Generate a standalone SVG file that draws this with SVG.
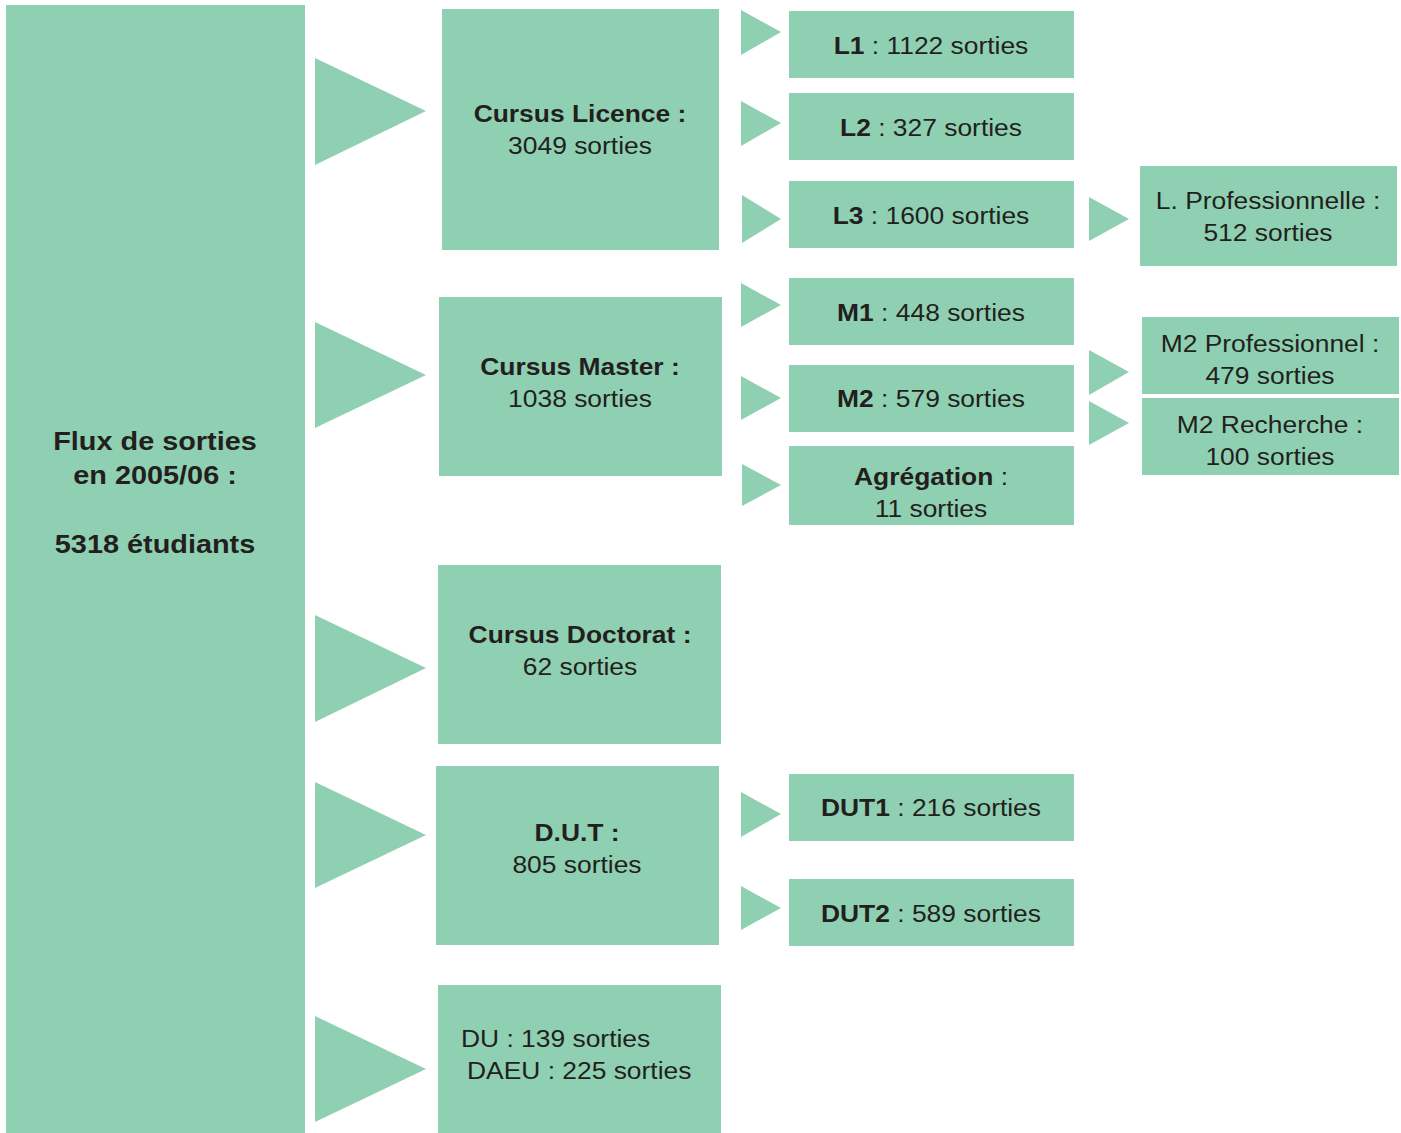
<svg xmlns="http://www.w3.org/2000/svg" width="1401" height="1133" viewBox="0 0 1401 1133">
<style>
.b{fill:#8fd0b2}
.t{fill:#8fd0b2}
text{font-family:"Liberation Sans",Arial,sans-serif;font-size:24px;fill:#231f20}
.c{text-anchor:middle}
.bd{font-weight:bold}
.big{font-size:26px;font-weight:bold}
</style>
<rect width="1401" height="1133" fill="#ffffff"/>
<g id="connectors">
<polygon class="t" points="315,58 426,111 315,165"/>
<polygon class="t" points="315,322 426,375 315,428"/>
<polygon class="t" points="315,615 426,668 315,722"/>
<polygon class="t" points="315,782 426,835 315,888"/>
<polygon class="t" points="315,1016 426,1069 315,1122"/>
<polygon class="t" points="741,10 781,32 741,55"/>
<polygon class="t" points="741,101 781,123 741,146"/>
<polygon class="t" points="742,195 781,219 742,243"/>
<polygon class="t" points="1089,197 1129,219 1089,241"/>
<polygon class="t" points="741,283 781,305 741,327"/>
<polygon class="t" points="741,376 781,398 741,420"/>
<polygon class="t" points="742,464 781,485 742,506"/>
<polygon class="t" points="1089,350 1129,372 1089,395"/>
<polygon class="t" points="1089,401 1129,423 1089,445"/>
<polygon class="t" points="741,792 781,814 741,837"/>
<polygon class="t" points="741,886 781,908 741,930"/>
</g>
<g id="flux">
<rect class="b" x="6" y="5" width="299" height="1128"/>
<text class="c big" transform="matrix(1.11 0 0 1 155 450)">Flux de sorties</text>
<text class="c big" transform="matrix(1.11 0 0 1 155 484)">en 2005/06 :</text>
<text class="c big" transform="matrix(1.11 0 0 1 155 553)">5318 étudiants</text>
</g>
<g id="licence">
<rect class="b" x="442" y="9" width="277" height="241"/>
<text class="c bd" transform="matrix(1.1 0 0 1 580 122)">Cursus Licence :</text>
<text class="c" transform="matrix(1.1 0 0 1 580 154)">3049 sorties</text>
</g>
<g id="master">
<rect class="b" x="439" y="297" width="283" height="179"/>
<text class="c bd" transform="matrix(1.1 0 0 1 580 375)">Cursus Master :</text>
<text class="c" transform="matrix(1.1 0 0 1 580 407)">1038 sorties</text>
</g>
<g id="doctorat">
<rect class="b" x="438" y="565" width="283" height="179"/>
<text class="c bd" transform="matrix(1.1 0 0 1 580 643)">Cursus Doctorat :</text>
<text class="c" transform="matrix(1.1 0 0 1 580 675)">62 sorties</text>
</g>
<g id="dut">
<rect class="b" x="436" y="766" width="283" height="179"/>
<text class="c bd" transform="matrix(1.1 0 0 1 577 841)">D.U.T :</text>
<text class="c" transform="matrix(1.1 0 0 1 577 873)">805 sorties</text>
</g>
<g id="du">
<rect class="b" x="438" y="985" width="283" height="148"/>
<text transform="matrix(1.1 0 0 1 461 1047)">DU : 139 sorties</text>
<text transform="matrix(1.1 0 0 1 467 1079)">DAEU : 225 sorties</text>
</g>
<g id="l1">
<rect class="b" x="789" y="11" width="285" height="67"/>
<text class="c" transform="matrix(1.1 0 0 1 931 54)"><tspan class="bd">L1</tspan> : 1122 sorties</text>
</g>
<g id="l2">
<rect class="b" x="789" y="93" width="285" height="67"/>
<text class="c" transform="matrix(1.1 0 0 1 931 136)"><tspan class="bd">L2</tspan> : 327 sorties</text>
</g>
<g id="l3">
<rect class="b" x="789" y="181" width="285" height="67"/>
<text class="c" transform="matrix(1.1 0 0 1 931 224)"><tspan class="bd">L3</tspan> : 1600 sorties</text>
</g>
<g id="lpro">
<rect class="b" x="1140" y="166" width="257" height="100"/>
<text class="c" transform="matrix(1.1 0 0 1 1268 209)">L. Professionnelle :</text>
<text class="c" transform="matrix(1.1 0 0 1 1268 241)">512 sorties</text>
</g>
<g id="m1">
<rect class="b" x="789" y="278" width="285" height="67"/>
<text class="c" transform="matrix(1.1 0 0 1 931 321)"><tspan class="bd">M1</tspan> : 448 sorties</text>
</g>
<g id="m2">
<rect class="b" x="789" y="365" width="285" height="67"/>
<text class="c" transform="matrix(1.1 0 0 1 931 407)"><tspan class="bd">M2</tspan> : 579 sorties</text>
</g>
<g id="agregation">
<rect class="b" x="789" y="446" width="285" height="79"/>
<text class="c" transform="matrix(1.1 0 0 1 931 485)"><tspan class="bd">Agrégation</tspan> :</text>
<text class="c" transform="matrix(1.1 0 0 1 931 517)">11 sorties</text>
</g>
<g id="m2pro">
<rect class="b" x="1142" y="317" width="257" height="77"/>
<text class="c" transform="matrix(1.1 0 0 1 1270 352)">M2 Professionnel :</text>
<text class="c" transform="matrix(1.1 0 0 1 1270 384)">479 sorties</text>
</g>
<g id="m2rech">
<rect class="b" x="1142" y="398" width="257" height="77"/>
<text class="c" transform="matrix(1.1 0 0 1 1270 433)">M2 Recherche :</text>
<text class="c" transform="matrix(1.1 0 0 1 1270 465)">100 sorties</text>
</g>
<g id="dut1">
<rect class="b" x="789" y="774" width="285" height="67"/>
<text class="c" transform="matrix(1.1 0 0 1 931 816)"><tspan class="bd">DUT1</tspan> : 216 sorties</text>
</g>
<g id="dut2">
<rect class="b" x="789" y="879" width="285" height="67"/>
<text class="c" transform="matrix(1.1 0 0 1 931 922)"><tspan class="bd">DUT2</tspan> : 589 sorties</text>
</g>
</svg>
